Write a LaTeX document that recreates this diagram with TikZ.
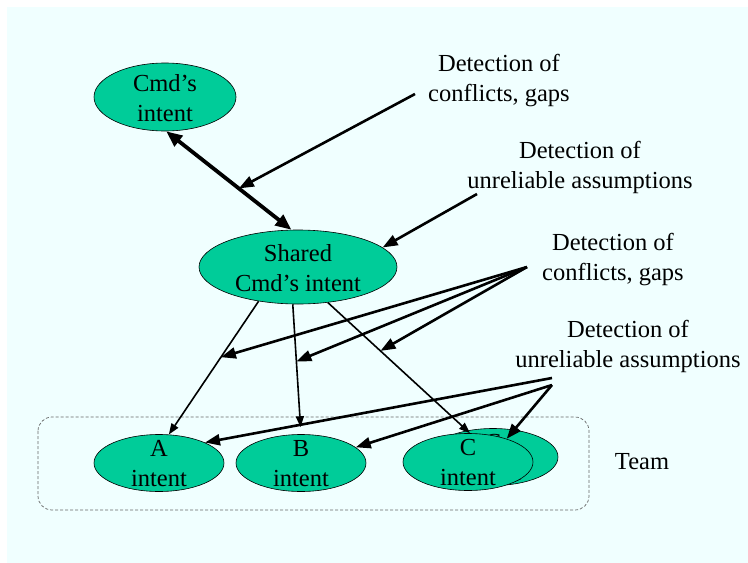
\documentclass[tikz,border=0pt]{standalone}
\usepackage{fontspec}
\setmainfont{Liberation Serif}
\usetikzlibrary{shapes.geometric,arrows.meta}
\definecolor{bgcyan}{HTML}{F0FFFF}
\definecolor{intentgreen}{HTML}{00CC99}
\begin{document}
\begin{tikzpicture}[x=1pt,y=-1pt,
  every node/.style={font=\fontsize{24.5}{30}\selectfont, align=center, inner sep=0pt},
  intent/.style={ellipse, draw=black, line width=0.6pt, fill=intentgreen},
  bigintent/.style={intent, minimum width=198pt, minimum height=74pt},
  topintent/.style={intent, minimum width=142pt, minimum height=68pt},
  member/.style={intent, minimum width=130pt, minimum height=57pt},
  thinarrow/.style={-{Triangle[length=11pt,width=8pt]}, line width=1.6pt},
  detarrow/.style={-{Triangle[length=15pt,width=11pt]}, line width=2.6pt},
  bothways/.style={{Triangle[length=16pt,width=13pt]}-{Triangle[length=16pt,width=13pt]}, line width=3.8pt},
  teambox/.style={draw=gray!80!black, dashed, dash pattern=on 3pt off 2pt, line width=0.7pt, rounded corners=14pt}
]
\useasboundingbox (0,0) rectangle (748,563);
\fill[bgcyan] (7,7) rectangle (748,563);

% team frame
\draw[teambox] (38,417) rectangle (589,510);

% intent ellipses
\node[topintent] (cmd) at (165,97) {};
\node (cmdtext) at (165,98) {Cmd’s\\intent};
\node[bigintent] (shared) at (298,267) {};
\node (sharedtext) at (298,268) {Shared\\Cmd’s intent};
\node[member] (A) at (159,463) {};
\node (Atext) at (159,464) {A\\intent};
\node[member] (B) at (301,463) {};
\node (Btext) at (301,464) {B\\intent};
\node[member] (Cback) at (493,457) {};
\node (Cbacktext) at (493,458) {C\\intent};
\node[member] (C) at (468,462) {};
\node (Ctext) at (468,463) {C\\intent};

% labels
\node (det1) at (499,81) {Detection of\\conflicts, gaps};
\node (det2) at (580,167) {Detection of\\unreliable assumptions};
\node (det3) at (613,260) {Detection of\\conflicts, gaps};
\node (det4) at (628,346) {Detection of\\unreliable assumptions};
\node (team) at (642,462) {Team};

% arrow sources next to the labels
\coordinate (s1) at (415,94);
\coordinate (s2) at (477,194);
\coordinate (s3) at (527,267);
\coordinate (s4a) at (552,378);
\coordinate (s4b) at (552,385);

% shared intent to commander's intent
\draw[bothways] (cmd.272) -- (shared.100) coordinate[pos=0.58] (onlink);

% shared intent handed down to the team
\draw[thinarrow] (shared.221) -- (A.71) coordinate[pos=0.42] (onA);
\draw[thinarrow, shorten >=7pt] (shared.262) -- (B.north) coordinate[pos=0.44] (onB);
\draw[thinarrow] (shared.310) -- (C.86) coordinate[pos=0.37] (onC);

% detection arrows
\draw[detarrow] (s1) -- (onlink);
\draw[detarrow] (s2) -- (shared.13);
\draw[detarrow] (s3) -- (onA);
\draw[detarrow] (s3) -- (onB);
\draw[detarrow] (s3) -- (onC);
\draw[detarrow] (s4a) -- (A.24);
\draw[detarrow] (s4b) -- (B.16);
\draw[detarrow] (s4b) -- (C.31);
\end{tikzpicture}
\end{document}
